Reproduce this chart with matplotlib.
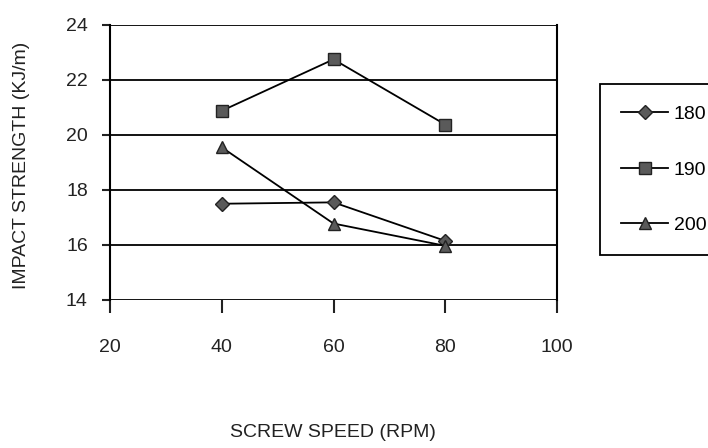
import matplotlib.pyplot as plt

plt.rcParams['font.family'] = ['Liberation Sans', 'DejaVu Sans']

# screw speed (RPM) and impact strength for each barrel temperature
speed = [40, 60, 80]
temps = ['180', '190', '200']
strength_180 = [17.5, 17.55, 16.15]
strength_190 = [20.88, 22.75, 20.38]
strength_200 = [19.55, 16.78, 15.97]
xticks = [20, 40, 60, 80, 100]
yticks = [14, 16, 18, 20, 22, 24]

fig = plt.figure(figsize=(7.08, 4.48), dpi=100)
ax = fig.add_axes([0.1554, 0.3304, 0.7867 - 0.1554, 0.9442 - 0.3304])

mk = dict(color='black', lw=1.3, markerfacecolor='#5a5a5a', markeredgecolor='#222222')
ax.plot(speed, strength_180, marker='D', ms=7, label=temps[0], **mk)
ax.plot(speed, strength_190, marker='s', ms=9, label=temps[1], **mk)
ax.plot(speed, strength_200, marker='^', ms=9, label=temps[2], **mk)

ax.set_xlim(20, 100)
ax.set_ylim(14, 24)
ax.set_xticks(xticks)
ax.set_yticks(yticks)
ax.yaxis.grid(True, color='black', lw=1.3)
ax.set_axisbelow(True)
for s in ['top', 'bottom']:
    ax.spines[s].set_visible(False)
ax.spines['left'].set_linewidth(1.5)
ax.spines['right'].set_linewidth(1.5)
ax.tick_params(axis='x', direction='out', length=9, width=1.5, pad=19, labelsize=14, colors='#222222')
ax.tick_params(axis='y', direction='out', length=6, width=1.5, pad=10, labelsize=14, colors='#222222')

fig.text(0.031, 0.63, 'IMPACT STRENGTH (KJ/m)', rotation=90, ha='center', va='center',
         fontsize=14, color='#222222')
fig.text(0.47, 0.035, 'SCREW SPEED (RPM)', ha='center', va='center', fontsize=14, color='#222222')

leg = fig.legend(loc='upper left', bbox_to_anchor=(600 / 708, 1 - 84 / 448), borderaxespad=0,
                 fontsize=14, labelspacing=1.95, handlelength=2.4, handletextpad=0.3,
                 borderpad=1.1, fancybox=False, edgecolor='black', framealpha=1)
leg.get_frame().set_linewidth(1.3)

fig.savefig('out.png', dpi=100)
